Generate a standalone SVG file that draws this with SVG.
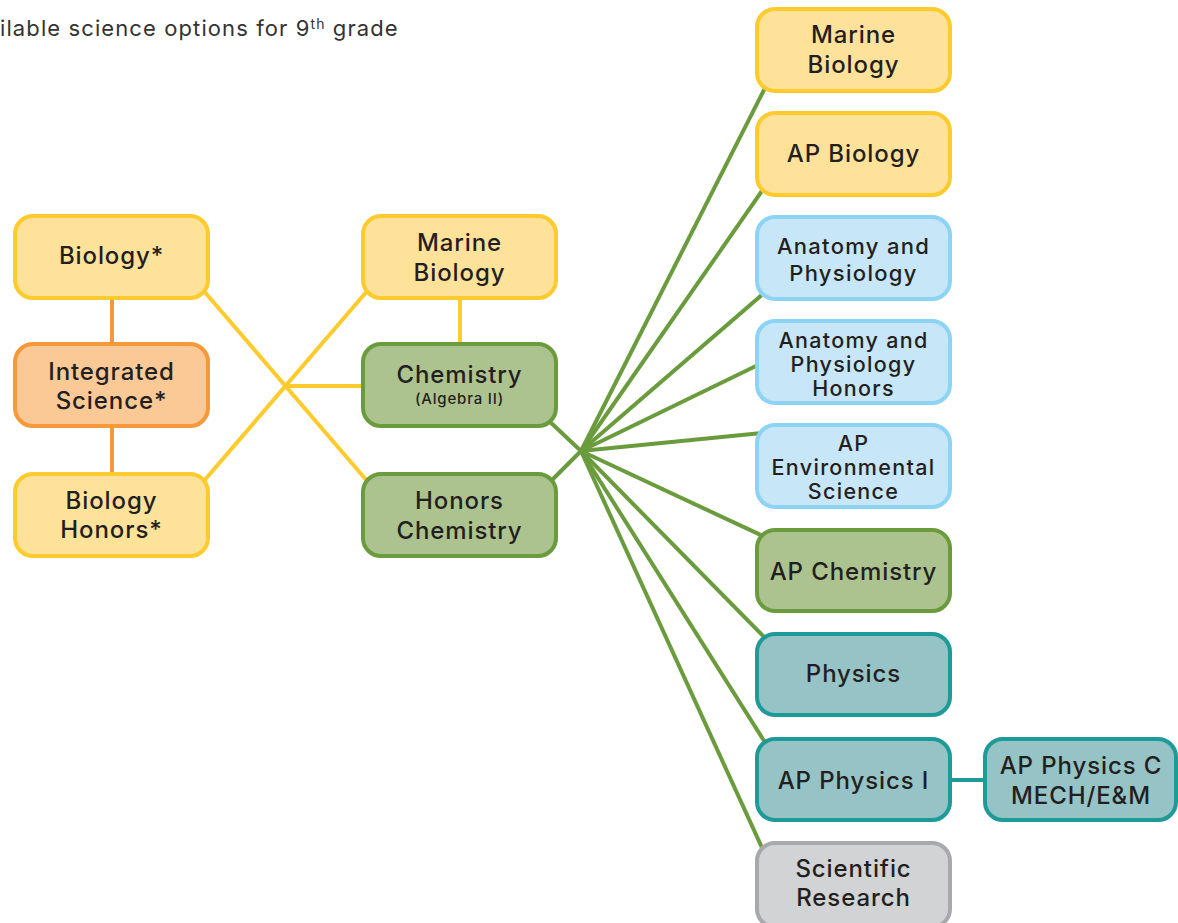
<svg xmlns="http://www.w3.org/2000/svg" width="1178" height="923" viewBox="0 0 1178 923">
<style>
.n{stroke-width:4}
.y{fill:#FFE29A;stroke:#FDCB2E}
.o{fill:#FBC996;stroke:#F6993A}
.g{fill:#ACC38F;stroke:#6A9C3E}
.b{fill:#C7E6F8;stroke:#8CD3F4}
.t{fill:#96C3C5;stroke:#1E9A98}
.s{fill:#D1D3D4;stroke:#A7A9AC}
text{font-family:Inter,"Open Sans","Liberation Sans",sans-serif;font-size:24px;font-weight:500;fill:#231F20;text-anchor:middle;letter-spacing:0.9px}
.title{font-size:22px;font-weight:400;fill:#333;text-anchor:start;letter-spacing:1.1px}
.sm{font-size:15px;letter-spacing:0.8px}
.tri{font-size:21.5px;letter-spacing:1.3px}
.duo{font-size:22px;letter-spacing:1.3px}
.cy{stroke:#FDCB2E;stroke-width:4;fill:none}
.co{stroke:#F6993A;stroke-width:4;fill:none}
.cg{stroke:#6A9C3E;stroke-width:4;fill:none}
.ct{stroke:#1E9A98;stroke-width:4;fill:none}
</style>
<text class="title" x="0" y="36">ilable science options for 9<tspan font-size="14" dy="-7">th</tspan><tspan dy="7"> grade</tspan></text>
<g id="connectors">
<line class="co" x1="112" y1="298" x2="112" y2="344"/>
<line class="co" x1="112" y1="426" x2="112" y2="474"/>
<line class="cy" x1="203" y1="290" x2="368" y2="482"/>
<line class="cy" x1="203" y1="482" x2="368" y2="290"/>
<line class="cy" x1="285" y1="386" x2="363" y2="386"/>
<line class="cy" x1="460" y1="298" x2="460" y2="344"/>
<line class="cg" x1="548" y1="420" x2="581" y2="451"/>
<line class="cg" x1="550" y1="482" x2="581" y2="451"/>
<line class="cg" x1="581" y1="451" x2="766" y2="86"/>
<line class="cg" x1="581" y1="451" x2="764" y2="188"/>
<line class="cg" x1="581" y1="451" x2="764" y2="293"/>
<line class="cg" x1="581" y1="451" x2="758" y2="365"/>
<line class="cg" x1="581" y1="451" x2="762" y2="433"/>
<line class="cg" x1="581" y1="451" x2="765" y2="537"/>
<line class="cg" x1="581" y1="451" x2="766" y2="639"/>
<line class="cg" x1="581" y1="451" x2="766" y2="744"/>
<line class="cg" x1="581" y1="451" x2="763" y2="850"/>
<line class="ct" x1="950" y1="780" x2="985" y2="780"/>
</g>
<g id="biology"><rect class="n y" x="15" y="216" width="193" height="82" rx="18"/><text x="111.5" y="264">Biology*</text></g>
<g id="integrated-science"><rect class="n o" x="15" y="344" width="193" height="82" rx="18"/><text x="111.5" y="380">Integrated</text><text x="111.5" y="409">Science*</text></g>
<g id="biology-honors"><rect class="n y" x="15" y="474" width="193" height="82" rx="18"/><text x="111.5" y="509">Biology</text><text x="111.5" y="538">Honors*</text></g>
<g id="marine-biology-mid"><rect class="n y" x="363" y="216" width="193" height="82" rx="18"/><text x="459.5" y="251">Marine</text><text x="459.5" y="281">Biology</text></g>
<g id="chemistry"><rect class="n g" x="363" y="344" width="193" height="82" rx="18"/><text x="459.5" y="383">Chemistry</text><text class="sm" x="459.5" y="404">(Algebra II)</text></g>
<g id="honors-chemistry"><rect class="n g" x="363" y="474" width="193" height="82" rx="18"/><text x="459.5" y="509">Honors</text><text x="459.5" y="539">Chemistry</text></g>
<g id="marine-biology"><rect class="n y" x="757" y="9" width="193" height="82" rx="18"/><text x="853.5" y="43">Marine</text><text x="853.5" y="73">Biology</text></g>
<g id="ap-biology"><rect class="n y" x="757" y="113" width="193" height="82" rx="18"/><text x="853.5" y="162">AP Biology</text></g>
<g id="anatomy"><rect class="n b" x="757" y="217" width="193" height="82" rx="18"/><text class="duo" x="853.5" y="254">Anatomy and</text><text class="duo" x="853.5" y="280.5">Physiology</text></g>
<g id="anatomy-honors"><rect class="n b" x="757" y="321" width="193" height="82" rx="18"/><text class="tri" x="853.5" y="348">Anatomy and</text><text class="tri" x="853.5" y="372">Physiology</text><text class="tri" x="853.5" y="396">Honors</text></g>
<g id="ap-env"><rect class="n b" x="757" y="425" width="193" height="82" rx="18"/><text class="tri" x="853.5" y="451">AP</text><text class="tri" x="853.5" y="475">Environmental</text><text class="tri" x="853.5" y="499">Science</text></g>
<g id="ap-chemistry"><rect class="n g" x="757" y="530" width="193" height="81" rx="18"/><text x="853.5" y="580">AP Chemistry</text></g>
<g id="physics"><rect class="n t" x="757" y="634" width="193" height="81" rx="18"/><text x="853.5" y="682">Physics</text></g>
<g id="ap-physics-1"><rect class="n t" x="757" y="739" width="193" height="81" rx="18"/><text x="853.5" y="789">AP Physics I</text></g>
<g id="ap-physics-c"><rect class="n t" x="985" y="739" width="191" height="81" rx="18"/><text x="1081" y="774">AP Physics C</text><text x="1081" y="804">MECH/E&amp;M</text></g>
<g id="scientific-research"><rect class="n s" x="757" y="843" width="193" height="84" rx="18"/><text x="853.5" y="877">Scientific</text><text x="853.5" y="906">Research</text></g>
</svg>
